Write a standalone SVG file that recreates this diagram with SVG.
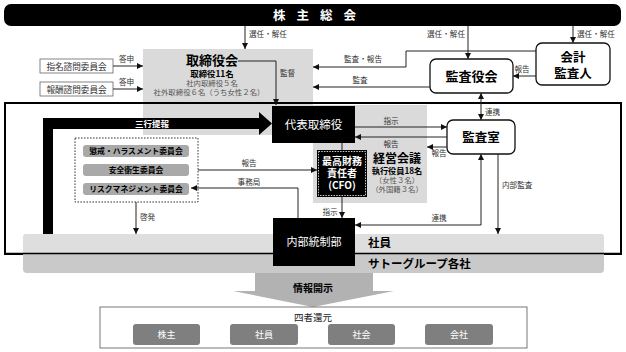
<svg xmlns="http://www.w3.org/2000/svg" width="626" height="352" viewBox="0 0 626 352">
<style>
text{font-family:"Noto Sans CJK JP","Noto Sans",sans-serif;}
.lbl{font-size:7.6px;fill:#333;}
.sm{font-size:7.4px;fill:#555;font-weight:normal;}
.b{font-weight:bold;}
.w{fill:#fff;}
.c{text-anchor:middle;}
.ln{fill:none;stroke:#222;stroke-width:1;}
.rbox{fill:#fff;stroke:#111;stroke-width:1.3;}
.gbox{fill:#dadada;}
.pill{fill:#a9a9a9;}
.pill2{fill:#7f7f7f;}
</style>
<defs>
<marker id="ah" viewBox="0 0 6 6" markerWidth="6" markerHeight="6" refX="6" refY="3" orient="auto-start-reverse" markerUnits="userSpaceOnUse">
<path d="M0,0 L6,3 L0,6 z" fill="#111"/>
</marker>
</defs>

<g id="torishimari">
<rect class="gbox" x="143" y="49" width="170" height="86"/>
<text class="c b" font-size="13"><tspan x="212" y="65">取締役会</tspan><tspan x="212" y="77" font-size="8.4">取締役11名</tspan><tspan x="212" y="85.5" class="sm">社内取締役５名</tspan><tspan x="209" y="94.5" class="sm">社外取締役６名（うち女性２名）</tspan></text>
</g>
<g id="keiei">
<rect class="gbox" x="313" y="105" width="114" height="98"/>
<text class="c b" font-size="12"><tspan x="397" y="163">経営会議</tspan><tspan x="397" y="174" font-size="8.2">執行役員18名</tspan><tspan x="397" y="183" class="sm">（女性３名）</tspan><tspan x="397" y="192" class="sm">（外国籍３名）</tspan></text>
</g>

<rect x="5" y="103" width="616" height="151" fill="none" stroke="#000" stroke-width="2"/>

<g id="group-bands">
<rect x="23" y="234" width="581" height="39" rx="4" fill="#c9c9c9"/>
<path d="M27,234 H600 A4,4 0 0 1 604,238 V253 H23 V238 A4,4 0 0 1 27,234 Z" fill="#dedede"/>
<line x1="5" y1="253.5" x2="621" y2="253.5" stroke="#000" stroke-width="1.5"/>
<text x="368" y="247" class="b" font-size="11.5">社員</text>
<text x="368" y="268" class="b" font-size="11.5">サトーグループ各社</text>
</g>

<g id="kabunushi">
<rect x="4" y="4" width="617" height="22" rx="7" fill="#000"/>
<text x="320" y="20" class="c b w" font-size="12.5" letter-spacing="11">株主総会</text>
</g>

<g id="shimei">
<rect x="40" y="59" width="73" height="14" fill="#fff" stroke="#666" stroke-width="0.8"/>
<text x="76.5" y="69.5" class="c" font-size="8.6" fill="#333">指名諮問委員会</text>
</g>
<g id="hoshu">
<rect x="40" y="82" width="73" height="14" fill="#fff" stroke="#666" stroke-width="0.8"/>
<text x="76.5" y="92.5" class="c" font-size="8.6" fill="#333">報酬諮問委員会</text>
</g>

<g id="kansayakukai">
<rect class="rbox" x="430" y="59" width="83" height="34" rx="6"/>
<text x="471.5" y="81" class="c b" font-size="13">監査役会</text>
</g>
<g id="kaikei">
<rect class="rbox" x="536" y="43" width="74" height="42" rx="6"/>
<text class="c b" font-size="12.5"><tspan x="573" y="62">会計</tspan><tspan x="573" y="78">監査人</tspan></text>
</g>
<g id="kansashitsu">
<rect class="rbox" x="447" y="120" width="68" height="34" rx="6"/>
<text x="481" y="142" class="c b" font-size="12.5">監査室</text>
</g>

<g id="daihyo">
<rect x="272" y="106" width="83" height="37" fill="#000"/>
<text x="313.5" y="129" class="c w" font-size="11.5">代表取締役</text>
</g>
<g id="cfo">
<rect x="317" y="150" width="50" height="47" fill="#000"/>
<rect x="318.5" y="151.5" width="47" height="44" fill="none" stroke="#fff" stroke-width="0.8" stroke-dasharray="1.5,1.2"/>
<text class="c w b" font-size="10"><tspan x="342" y="164.5">最高財務</tspan><tspan x="342" y="176.5">責任者</tspan><tspan x="342" y="188.5">(CFO)</tspan></text>
</g>
<g id="naibu">
<rect x="273" y="218" width="82" height="48" fill="#000"/>
<text x="314" y="246" class="c w" font-size="11">内部統制部</text>
</g>

<g id="iinkai">
<rect x="75" y="138" width="123" height="64" fill="none" stroke="#222" stroke-width="0.9" stroke-dasharray="1.6,1.4"/>
<rect class="pill" x="83" y="145" width="106" height="12" rx="3"/>
<text x="136" y="154" class="c b" font-size="7.8">懲戒・ハラスメント委員会</text>
<rect class="pill" x="83" y="164" width="106" height="12" rx="3"/>
<text x="136" y="173" class="c b" font-size="7.8">安全衛生委員会</text>
<rect class="pill" x="83" y="183" width="106" height="12" rx="3"/>
<text x="136" y="192" class="c b" font-size="7.8">リスクマネジメント委員会</text>
</g>

<g id="joho">
<path d="M255,273 H373 V291 H394 L313,307 L233,291 H255 Z" fill="#b2b2b2"/>
<text x="313" y="292" class="c b" font-size="10">情報開示</text>
</g>

<g id="yonsha">
<rect x="100" y="307" width="427" height="41" fill="#fff" stroke="#555" stroke-width="0.8"/>
<text x="313" y="321" class="c" font-size="9.5" fill="#222">四者還元</text>
<rect class="pill2" x="133" y="324" width="67" height="21" rx="3"/>
<text x="166.5" y="338" class="c w" font-size="9">株主</text>
<rect class="pill2" x="230" y="324" width="68" height="21" rx="3"/>
<text x="264" y="338" class="c w" font-size="9">社員</text>
<rect class="pill2" x="328" y="324" width="67" height="21" rx="3"/>
<text x="361.5" y="338" class="c w" font-size="9">社会</text>
<rect class="pill2" x="425" y="324" width="68" height="21" rx="3"/>
<text x="459" y="338" class="c w" font-size="9">会社</text>
</g>

<g id="connectors">
<path class="ln" d="M245,26 V49" marker-end="url(#ah)"/>
<path class="ln" d="M468,26 V59" marker-end="url(#ah)"/>
<path class="ln" d="M573,26 V43" marker-end="url(#ah)"/>
<path class="ln" d="M113,66 H143" marker-end="url(#ah)"/>
<path class="ln" d="M113,89 H143" marker-end="url(#ah)"/>
<path class="ln" d="M238,61 H276 V105" marker-end="url(#ah)"/>
<path class="ln" d="M536,51 H406 V67 H313" marker-end="url(#ah)"/>
<path class="ln" d="M430,87 H313" marker-end="url(#ah)"/>
<path class="ln" d="M536,76 H513" marker-end="url(#ah)"/>
<path class="ln" d="M481,93 V120" marker-start="url(#ah)" marker-end="url(#ah)"/>
<path class="ln" d="M355,127 H447" marker-end="url(#ah)"/>
<path class="ln" d="M447,137 H355" marker-end="url(#ah)"/>
<path class="ln" d="M447,147 H427" marker-end="url(#ah)"/>
<path class="ln" d="M198,170 H317" marker-end="url(#ah)"/>
<path class="ln" d="M298,218 V188 H191" marker-end="url(#ah)"/>
<path class="ln" d="M136,202 V234" marker-end="url(#ah)"/>
<path class="ln" d="M342,143 V150"/>
<path class="ln" d="M342,197 V218" marker-end="url(#ah)"/>
<path class="ln" d="M355,225 H481 V154" marker-start="url(#ah)" marker-end="url(#ah)"/>
<path class="ln" d="M498,154 V234" marker-end="url(#ah)"/>
<path d="M43,234 V118 H259 V112 L272,123.5 L259,135 V129 H53 V234 Z" fill="#000"/>
<text x="152" y="127" class="c w b" font-size="8.5">三行提報</text>
<text x="249" y="37" class="lbl">選任・解任</text>
<text x="465" y="37" class="lbl" text-anchor="end">選任・解任</text>
<text x="577" y="37" class="lbl">選任・解任</text>
<text x="119" y="62" class="lbl">答申</text>
<text x="119" y="85" class="lbl">答申</text>
<text x="280" y="76" class="lbl">監督</text>
<text x="363" y="62" class="lbl c">監査・報告</text>
<text x="360" y="83" class="lbl c">監査</text>
<text x="522" y="72" class="lbl c">報告</text>
<text x="485" y="115" class="lbl">連携</text>
<text x="391" y="124" class="lbl c">指示</text>
<text x="391" y="147" class="lbl c">報告</text>
<text x="439" y="156" class="lbl c">報告</text>
<text x="249" y="166" class="lbl c">報告</text>
<text x="249" y="185" class="lbl c">事務局</text>
<text x="140" y="220" class="lbl">啓発</text>
<text x="330" y="215" class="lbl c">指示</text>
<text x="439" y="221" class="lbl c">連携</text>
<text x="502" y="188" class="lbl">内部監査</text>
</g>
</svg>
